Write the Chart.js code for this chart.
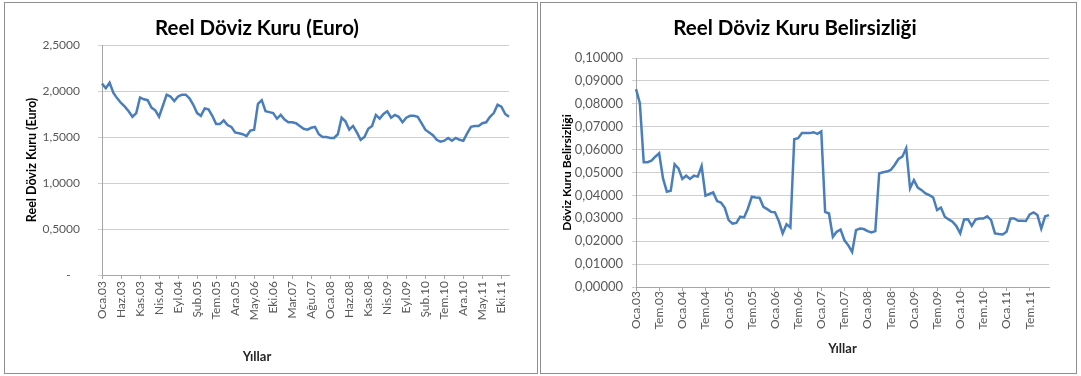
<!DOCTYPE html>
<html>
<head>
<meta charset="utf-8">
<script src="https://cdn.jsdelivr.net/npm/chart.js@4.4.0/dist/chart.umd.min.js"></script>
<style>
  body { margin: 0; background: #fff; width: 1081px; height: 376px; position: relative; overflow: hidden; }
  .box { position: absolute; border: 1px solid #8e8e8e; background: #fff; }
  #box-euro { left: 4px; top: 2px; width: 532px; height: 370px; }
  #box-unc { left: 540px; top: 2px; width: 535px; height: 370px; }
</style>
</head>
<body>
<div class="box" id="box-euro"><canvas id="euroChart" width="532" height="370"></canvas></div>
<div class="box" id="box-unc"><canvas id="uncChart" width="535" height="370"></canvas></div>

<script>
// month abbreviations and years (Oca.03 ... Ara.11)
const monthNames = ['Oca', 'Şub', 'Mar', 'Nis', 'May', 'Haz', 'Tem', 'Ağu', 'Eyl', 'Eki', 'Kas', 'Ara'];
const years = ['03', '04', '05', '06', '07', '08', '09', '10', '11'];

// real exchange rate (Euro), monthly
const euroRate = [
  2.08, 2.03, 2.09, 1.98, 1.92, 1.87, 1.83, 1.78, 1.72, 1.76, 1.93, 1.91,
  1.90, 1.82, 1.79, 1.72, 1.84, 1.96, 1.94, 1.89, 1.94, 1.96, 1.96, 1.92,
  1.85, 1.76, 1.73, 1.81, 1.80, 1.73, 1.64, 1.64, 1.68, 1.63, 1.61, 1.55,
  1.54, 1.53, 1.51, 1.57, 1.58, 1.86, 1.90, 1.78, 1.77, 1.76, 1.70, 1.74,
  1.69, 1.66, 1.66, 1.65, 1.62, 1.59, 1.58, 1.60, 1.61, 1.53, 1.50, 1.50,
  1.49, 1.49, 1.53, 1.71, 1.67, 1.58, 1.62, 1.55, 1.47, 1.50, 1.59, 1.62,
  1.74, 1.70, 1.75, 1.78, 1.71, 1.74, 1.72, 1.66, 1.71, 1.73, 1.73, 1.72,
  1.65, 1.58, 1.55, 1.52, 1.47, 1.45, 1.46, 1.49, 1.46, 1.49, 1.47, 1.46,
  1.54, 1.61, 1.62, 1.62, 1.65, 1.66, 1.72, 1.76, 1.85, 1.83, 1.75, 1.72
];

// real exchange rate uncertainty, monthly
const uncertainty = [
  0.0864, 0.0803, 0.0545, 0.0545, 0.0552, 0.0569, 0.0584, 0.0474, 0.0416, 0.0420, 0.0536, 0.0518,
  0.0472, 0.0486, 0.0472, 0.0486, 0.0482, 0.0528, 0.0399, 0.0406, 0.0413, 0.0375, 0.0369, 0.0346,
  0.0292, 0.0277, 0.0280, 0.0307, 0.0304, 0.0343, 0.0394, 0.0391, 0.0390, 0.0350, 0.0340, 0.0328,
  0.0326, 0.0288, 0.0234, 0.0274, 0.0260, 0.0645, 0.0650, 0.0672, 0.0672, 0.0672, 0.0676, 0.0669,
  0.0679, 0.0328, 0.0321, 0.0219, 0.0241, 0.0251, 0.0204, 0.0182, 0.0153, 0.0248, 0.0255, 0.0253,
  0.0244, 0.0238, 0.0244, 0.0496, 0.0501, 0.0504, 0.0511, 0.0533, 0.0559, 0.0569, 0.0606, 0.0431,
  0.0467, 0.0434, 0.0423, 0.0409, 0.0401, 0.0391, 0.0336, 0.0347, 0.0307, 0.0295, 0.0285, 0.0266,
  0.0234, 0.0295, 0.0296, 0.0267, 0.0295, 0.0299, 0.0299, 0.0309, 0.0292, 0.0234, 0.0231, 0.0229,
  0.0241, 0.0299, 0.0299, 0.0289, 0.0289, 0.0288, 0.0317, 0.0326, 0.0314, 0.0255, 0.0309, 0.0314
];

const months = [];
years.forEach((y) => monthNames.forEach((m) => months.push(`${m}.${y}`)));

const FONT = 'Lato, "Open Sans", sans-serif';
const LINE_COLOR = '#4a7ebb';
const GRID_COLOR = '#cfcfcf';
const LABEL_COLOR = '#595959';

const buildChart = (canvas, cfg) => {
  const { data, title, yTitle, every, yMax, yStep, yFormat, tickSize } = cfg;
  return new Chart(canvas, {
    type: 'line',
    data: {
      labels: months,
      datasets: [
        {
          data: data,
          borderColor: LINE_COLOR,
          borderWidth: 2.5,
          pointRadius: 0,
          tension: 0,
          fill: false,
        },
      ],
    },
    options: {
      responsive: false,
      animation: false,
      devicePixelRatio: 1,
      layout: { padding: { left: 0, right: cfg.padRight, top: 0, bottom: 0 } },
      plugins: {
        legend: { display: false },
        tooltip: { enabled: false },
        title: {
          display: true,
          text: title,
          color: '#000',
          font: { family: FONT, size: 20.5, weight: 'bold' },
          padding: { top: 12.7, bottom: cfg.titleGap },
        },
        subtitle: {
          display: cfg.bottomSubtitle,
          text: 'Yıllar',
          position: 'bottom',
          color: '#262626',
          font: { family: FONT, size: 13, weight: 'bold' },
          padding: { top: 0, bottom: 8.2 },
        },
      },
      scales: {
        x: {
          type: 'category',
          offset: false,
          afterFit: (scale) => {
            scale.height = cfg.xHeight;
          },
          grid: {
            drawOnChartArea: false,
            drawTicks: true,
            tickLength: 4,
            color: '#a6a6a6',
          },
          border: { color: '#a6a6a6' },
          ticks: {
            autoSkip: false,
            maxRotation: 90,
            minRotation: 90,
            padding: cfg.xPad,
            color: LABEL_COLOR,
            font: { family: FONT, size: tickSize },
            callback: function (val, i) {
              return i % every === 0 ? this.getLabelForValue(val) : null;
            },
          },
          title: {
            display: !cfg.bottomSubtitle,
            text: 'Yıllar',
            color: '#262626',
            font: { family: FONT, size: 13, weight: 'bold' },
            padding: { top: 0, bottom: 16 },
          },
        },
        y: {
          min: 0,
          max: yMax,
          afterFit: (scale) => {
            scale.width = cfg.yWidth;
          },
          grid: { color: GRID_COLOR, tickLength: 4, lineWidth: 1 },
          border: { color: '#a6a6a6' },
          ticks: {
            stepSize: yStep,
            padding: cfg.yPad,
            color: LABEL_COLOR,
            font: { family: FONT, size: cfg.ySize },
            callback: yFormat,
          },
          title: {
            display: true,
            text: yTitle,
            color: '#000',
            font: { family: FONT, size: cfg.yTitleSize, weight: 'bold' },
            padding: { top: cfg.yTitlePad, bottom: 0 },
          },
        },
      },
    },
  });
};

buildChart(document.getElementById('euroChart'), {
  data: euroRate,
  title: 'Reel Döviz Kuru (Euro)',
  yTitle: 'Reel Döviz Kuru (Euro)',
  every: 5,
  yMax: 2.5,
  yStep: 0.5,
  yFormat: (v) => (v === 0 ? '-   ' : v.toFixed(4).replace('.', ',')),
  tickSize: 12,
  ySize: 12,
  padRight: 28,
  titleGap: 4.7,
  bottomSubtitle: true,
  xHeight: 74.2,
  xPad: 2,
  yWidth: 97,
  yPad: 18,
  yTitleSize: 12.5,
  yTitlePad: 19.5,
});

buildChart(document.getElementById('uncChart'), {
  data: uncertainty,
  title: 'Reel Döviz Kuru Belirsizliği',
  yTitle: 'Döviz Kuru Belirsizliği',
  every: 6,
  yMax: 0.1,
  yStep: 0.01,
  yFormat: (v) => v.toFixed(5).replace('.', ','),
  tickSize: 12,
  ySize: 13,
  padRight: 27,
  titleGap: 17.7,
  bottomSubtitle: false,
  xHeight: 86,
  xPad: 0,
  yWidth: 95,
  yPad: 9,
  yTitleSize: 12,
  yTitlePad: 19,
});
</script>
</body>
</html>
